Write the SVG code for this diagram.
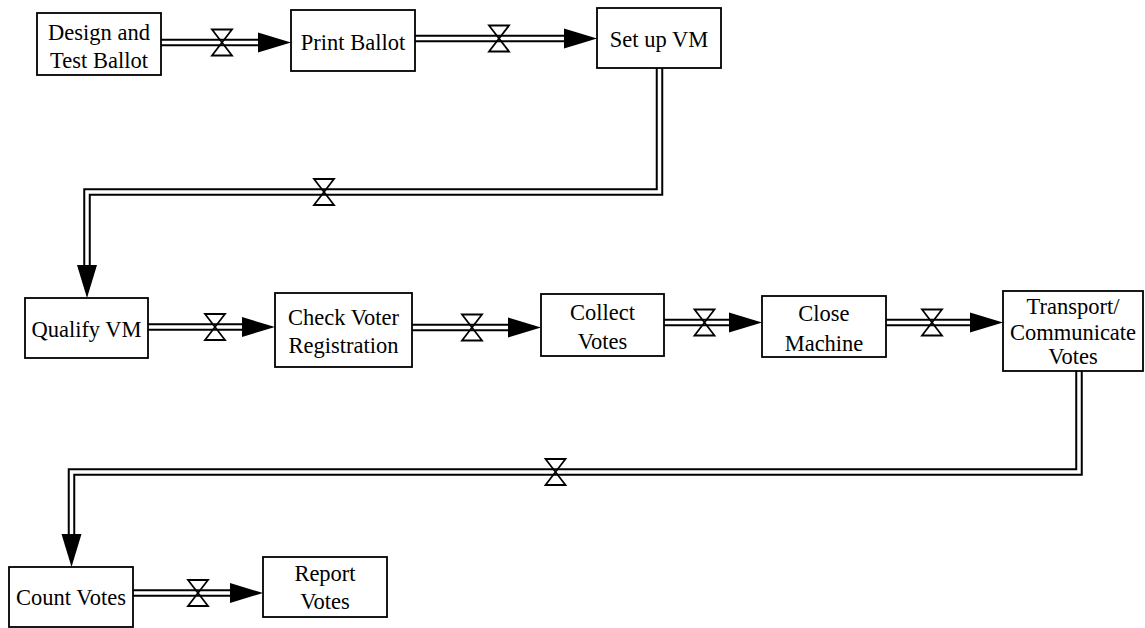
<svg xmlns="http://www.w3.org/2000/svg" xmlns:xlink="http://www.w3.org/1999/xlink" width="1145" height="628" viewBox="0 0 1145 628">
<style>
.box{fill:#fff;stroke:#000;stroke-width:1.8}
.lbl{font-family:'Liberation Serif','Times New Roman',serif;font-size:22.5px;fill:#000;text-anchor:middle}
.pipeO{fill:none;stroke:#000;stroke-width:7.5}
.pipeI{fill:none;stroke:#fff;stroke-width:3.5}
.arr{fill:#000;stroke:none}
.valve{fill:none;stroke:#000;stroke-width:1.8;stroke-linejoin:miter}
</style>
<defs>
<path id="arrR" d="M-33,-10 L0,0 L-33,10 Z"/>
<path id="arrD" d="M-10,-33 L0,0 L10,-33 Z"/>
<path id="valve" d="M-10,-13 H10 L-10,13 H10 Z"/>
</defs>
<rect width="1145" height="628" fill="#fff"/>
<g id="connectors">
  <g id="c1">
    <path class="pipeO" d="M161,42.5 H260"/><path class="pipeI" d="M161,42.5 H260"/>
    <use href="#arrR" xlink:href="#arrR" class="arr" x="291" y="42.5"/>
    <use href="#valve" xlink:href="#valve" class="valve" x="222" y="42.5"/>
  </g>
  <g id="c2">
    <path class="pipeO" d="M415,38.5 H566"/><path class="pipeI" d="M415,38.5 H566"/>
    <use href="#arrR" xlink:href="#arrR" class="arr" x="597" y="38.5"/>
    <use href="#valve" xlink:href="#valve" class="valve" x="499" y="38.5"/>
  </g>
  <g id="c3">
    <path class="pipeO" d="M659.5,68 V192 H87 V267"/><path class="pipeI" d="M659.5,68 V192 H87 V267"/>
    <use href="#arrD" xlink:href="#arrD" class="arr" x="87" y="298"/>
    <use href="#valve" xlink:href="#valve" class="valve" x="324" y="192"/>
  </g>
  <g id="c4">
    <path class="pipeO" d="M148,327 H245"/><path class="pipeI" d="M148,327 H245"/>
    <use href="#arrR" xlink:href="#arrR" class="arr" x="275" y="327"/>
    <use href="#valve" xlink:href="#valve" class="valve" x="215" y="327"/>
  </g>
  <g id="c5">
    <path class="pipeO" d="M412,327.5 H510"/><path class="pipeI" d="M412,327.5 H510"/>
    <use href="#arrR" xlink:href="#arrR" class="arr" x="541" y="327.5"/>
    <use href="#valve" xlink:href="#valve" class="valve" x="472" y="327.5"/>
  </g>
  <g id="c6">
    <path class="pipeO" d="M664,322.5 H731"/><path class="pipeI" d="M664,322.5 H731"/>
    <use href="#arrR" xlink:href="#arrR" class="arr" x="762" y="322.5"/>
    <use href="#valve" xlink:href="#valve" class="valve" x="704.5" y="322.5"/>
  </g>
  <g id="c7">
    <path class="pipeO" d="M886,322.5 H973"/><path class="pipeI" d="M886,322.5 H973"/>
    <use href="#arrR" xlink:href="#arrR" class="arr" x="1003" y="322.5"/>
    <use href="#valve" xlink:href="#valve" class="valve" x="932" y="322.5"/>
  </g>
  <g id="c8">
    <path class="pipeO" d="M1079,371 V472 H71.5 V536"/><path class="pipeI" d="M1079,371 V472 H71.5 V536"/>
    <use href="#arrD" xlink:href="#arrD" class="arr" x="71.5" y="567"/>
    <use href="#valve" xlink:href="#valve" class="valve" x="555.5" y="472"/>
  </g>
  <g id="c9">
    <path class="pipeO" d="M133,593 H232"/><path class="pipeI" d="M133,593 H232"/>
    <use href="#arrR" xlink:href="#arrR" class="arr" x="263" y="593"/>
    <use href="#valve" xlink:href="#valve" class="valve" x="198" y="593"/>
  </g>
</g>
<g id="n-design">
  <rect class="box" x="37" y="13" width="124" height="62"/>
  <text class="lbl" x="99" y="39.5">Design and</text>
  <text class="lbl" x="99" y="68">Test Ballot</text>
</g>
<g id="n-print">
  <rect class="box" x="291" y="10" width="124" height="61"/>
  <text class="lbl" x="353" y="50">Print Ballot</text>
</g>
<g id="n-setup">
  <rect class="box" x="597" y="8" width="124" height="60"/>
  <text class="lbl" x="659" y="47">Set up VM</text>
</g>
<g id="n-qualify">
  <rect class="box" x="25" y="298" width="123" height="60"/>
  <text class="lbl" x="86.5" y="337">Qualify VM</text>
</g>
<g id="n-check">
  <rect class="box" x="275" y="293" width="137" height="74"/>
  <text class="lbl" x="343.5" y="325">Check Voter</text>
  <text class="lbl" x="343.5" y="353">Registration</text>
</g>
<g id="n-collect">
  <rect class="box" x="541" y="294" width="123" height="62"/>
  <text class="lbl" x="602.5" y="320">Collect</text>
  <text class="lbl" x="602.5" y="349">Votes</text>
</g>
<g id="n-close">
  <rect class="box" x="762" y="296" width="124" height="61"/>
  <text class="lbl" x="824" y="321">Close</text>
  <text class="lbl" x="824" y="351">Machine</text>
</g>
<g id="n-transport">
  <rect class="box" x="1003" y="291" width="140" height="80"/>
  <text class="lbl" x="1073" y="314">Transport/</text>
  <text class="lbl" x="1073" y="340">Communicate</text>
  <text class="lbl" x="1073" y="364">Votes</text>
</g>
<g id="n-count">
  <rect class="box" x="9" y="567" width="124" height="60"/>
  <text class="lbl" x="71" y="605">Count Votes</text>
</g>
<g id="n-report">
  <rect class="box" x="263" y="557" width="124" height="60"/>
  <text class="lbl" x="325" y="581">Report</text>
  <text class="lbl" x="325" y="609">Votes</text>
</g>
</svg>
